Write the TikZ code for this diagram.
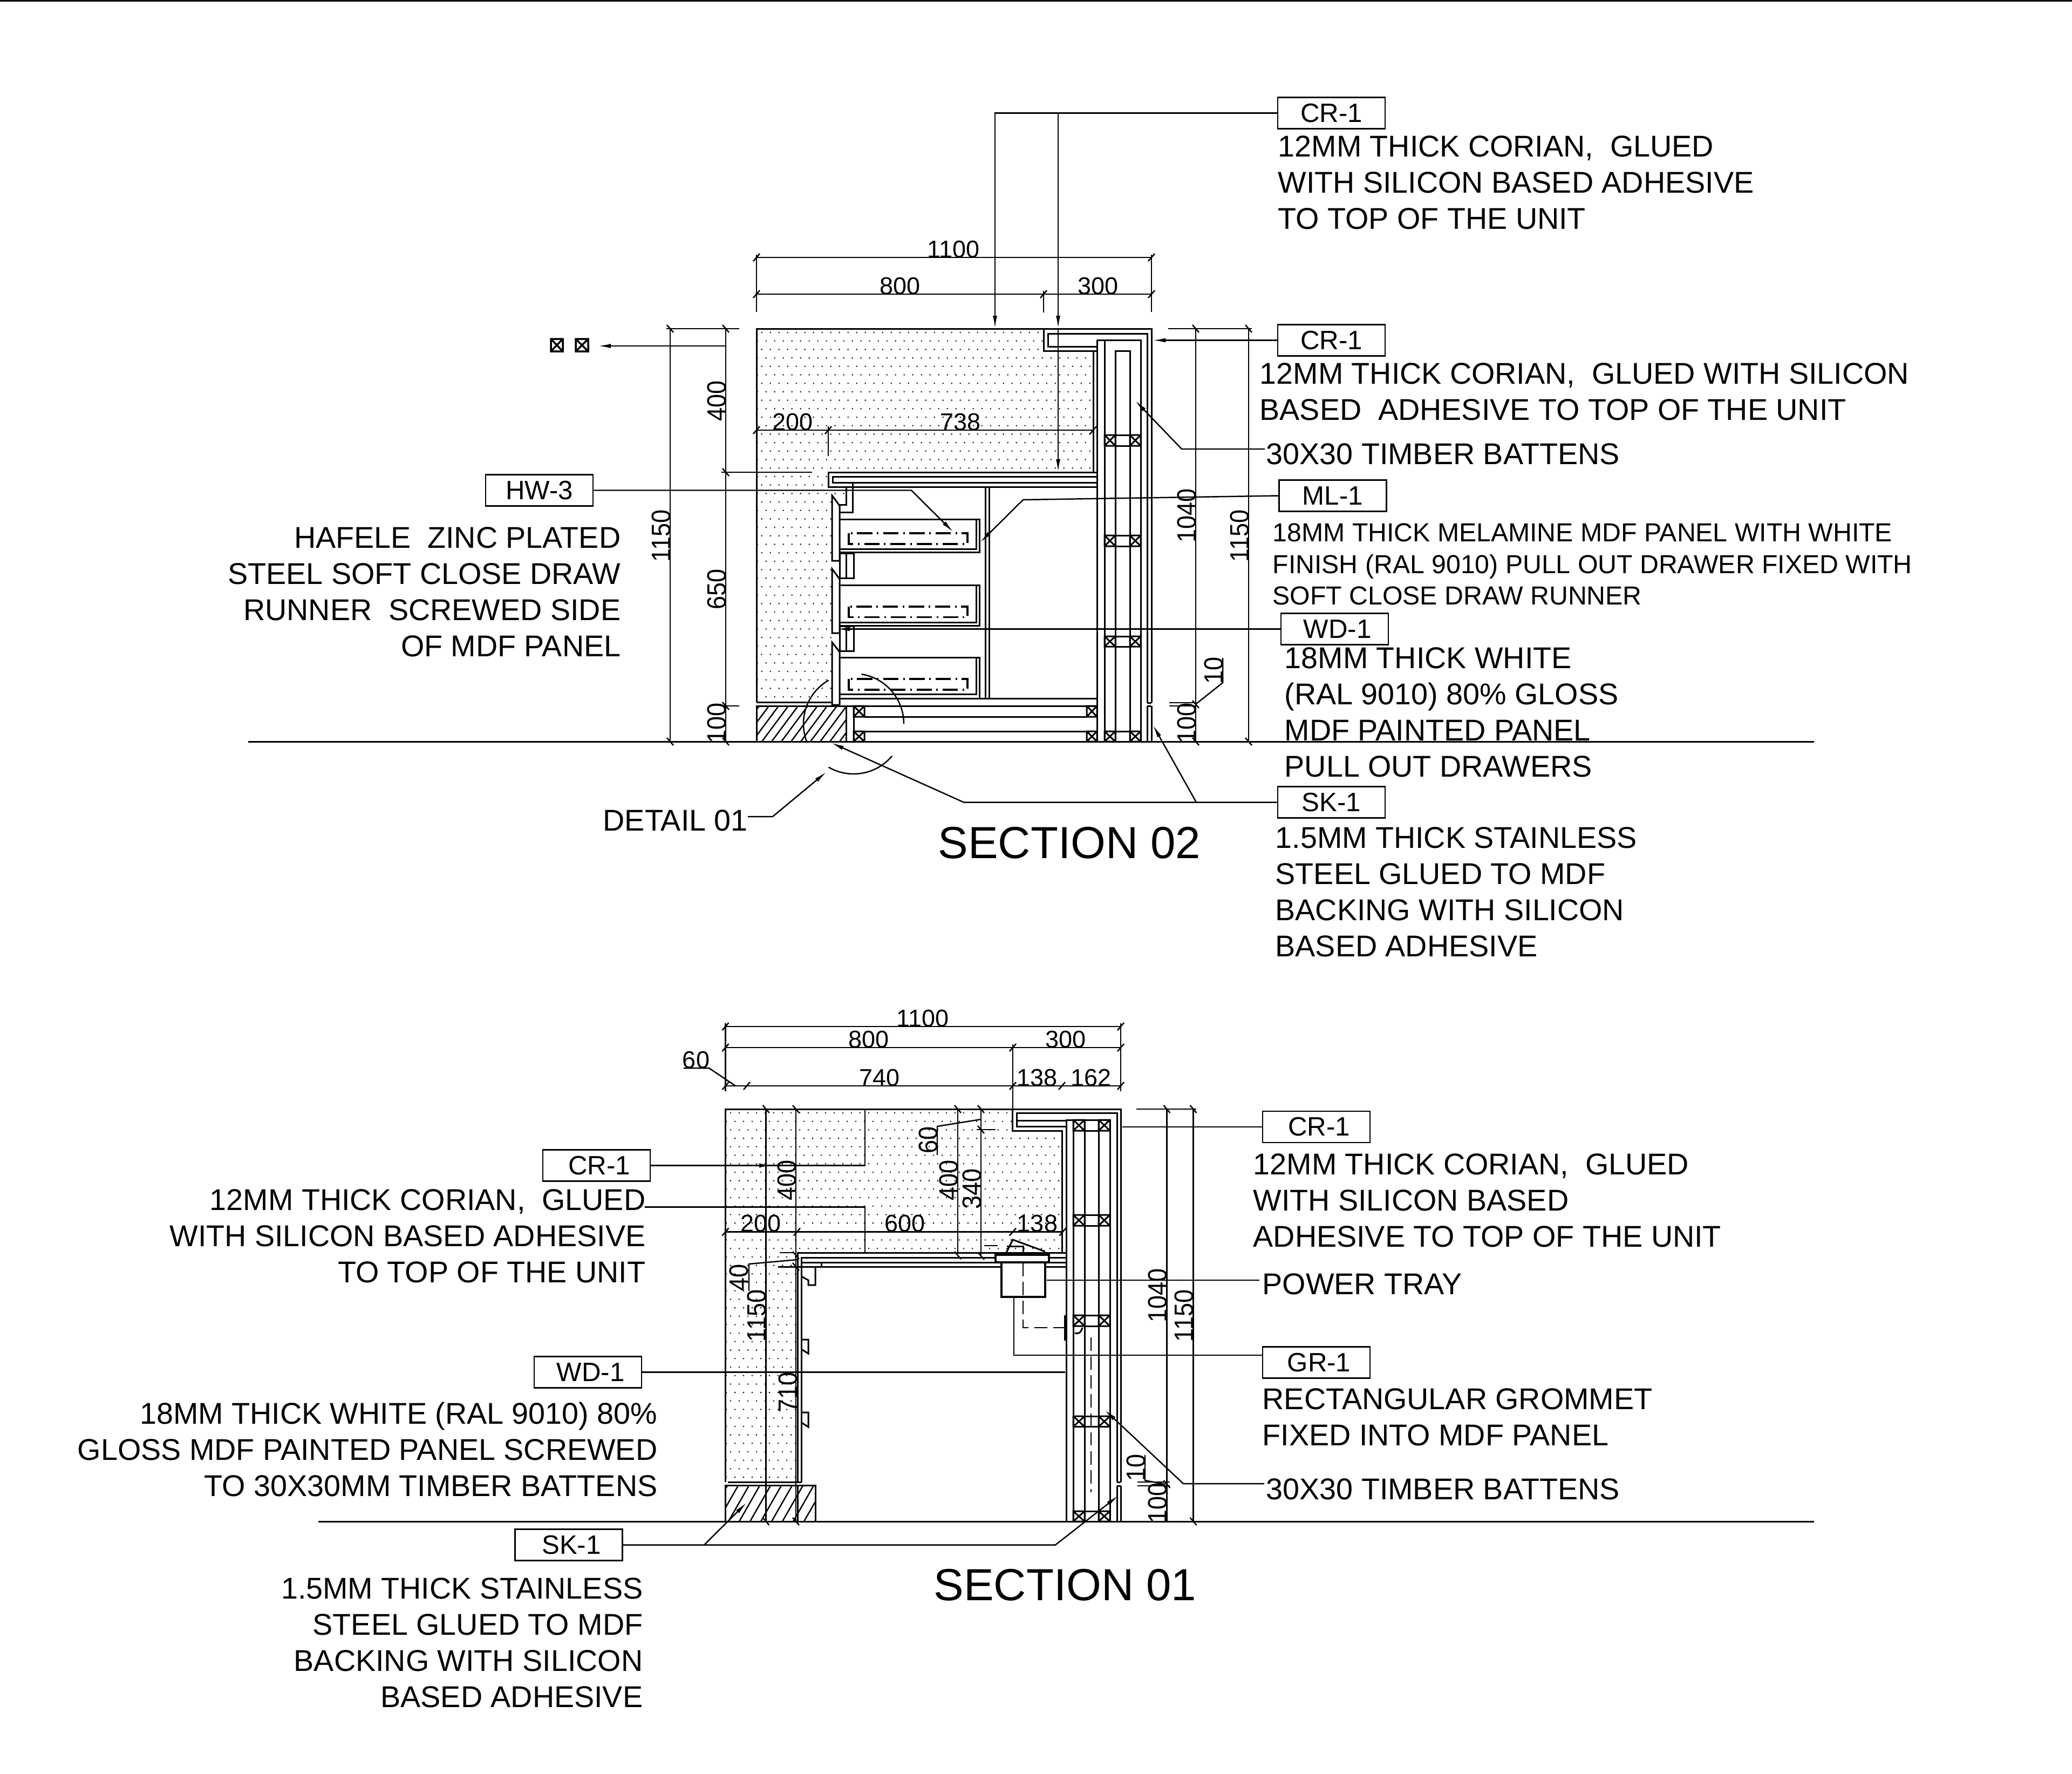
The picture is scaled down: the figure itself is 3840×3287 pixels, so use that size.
\documentclass[tikz,border=0pt]{standalone}
\usepackage{fontspec}
\setmainfont{Liberation Sans}
\usetikzlibrary{arrows.meta}
\tikzset{
  outl/.style={line width=0.85pt,line join=miter},
  heavy/.style={line width=1.4pt},
  dimln/.style={line width=0.7pt},
  lead/.style={line width=0.7pt},
  arr/.style={line width=0.7pt,-{Latex[length=2.4mm,width=0.8mm]}},
  hatchln/.style={line width=0.7pt},
  dashdot/.style={line width=0.9pt,dash pattern=on 8pt off 2.5pt on 0.8pt off 2.5pt},
  longdash/.style={line width=0.75pt,dash pattern=on 7pt off 3pt},
  dimtxt/.style={font=\fontsize{12.8}{14}\selectfont,inner sep=0pt,anchor=base},
  dimrot/.style={dimtxt,rotate=90,yscale=1.1},
  lbl/.style={font=\fontsize{15.84}{19.1}\selectfont,inner sep=0pt,anchor=north west,align=left,yshift=0.1mm},
  lblr/.style={font=\fontsize{15.84}{19.1}\selectfont,inner sep=0pt,anchor=north east,align=right,yshift=0.1mm,xshift=0.2mm},
  lblsmall/.style={font=\fontsize{13.72}{16.7}\selectfont,inner sep=0pt,anchor=north west,align=left,yshift=0.1mm},
  sectitle/.style={font=\fontsize{23.72}{26}\selectfont,inner sep=0pt,anchor=north west},
  tag/.style={draw,line width=0.75pt,minimum width=19.9mm,minimum height=5.8mm,inner sep=0pt,font=\fontsize{14}{15}\selectfont},
}
\newcommand\tkh[2]{\draw[dimln] (#1-6,#2+7) -- (#1+6,#2-7);}
\newcommand\tkv[2]{\draw[dimln] (#1-6,#2-7) -- (#1+6,#2+7);}
\newcommand\xbox[4]{\draw[outl] (#1,#2) rectangle (#3,#4) (#1,#2) -- (#3,#4) (#1,#4) -- (#3,#2);}
\newcommand\tagnudge{\hspace*{1mm}}
\begin{document}
\begin{tikzpicture}[x=0.1mm,y=-0.1mm]
\useasboundingbox (0,0) rectangle (3840,3287);
\draw[line width=1pt] (0,1) -- (3840,1);

% ================= SECTION 02 =================
\draw[outl] (460,1374) -- (3362,1374);
% dot fill
\begin{scope}
\clip (1402,609) -- (1934,609) -- (1934,650) -- (2026,650) -- (2026,875) -- (1535,875) -- (1535,903) -- (1566,903) -- (1566,918) -- (1541,918) -- (1541,1301) -- (1402,1301) -- cycle;
\foreach \r in {0,...,44}{\foreach \c in {0,...,39}{
  \fill ({1411.7+16*\c-8*mod(\r,2)},{616+15.7*\r}) circle[radius=0.14mm];}}
\end{scope}
% carcass
\draw[outl] (1402,1301) -- (1402,609) -- (2134,609) -- (2134,1302);
\draw[outl] (2134,1308) -- (2134,1374) (2126,1308) -- (2126,1374) (2126,1302) -- (2134,1302) (2126,1308) -- (2134,1308);
\draw[outl] (1934,609) -- (1934,650) -- (2033,650);
\draw[outl] (2033,642) -- (1942,642) -- (1942,618) -- (2126,618) -- (2126,1302);
\draw[outl] (2026,650) -- (2026,875);
\draw[outl] (2033,1374) -- (2033,630) -- (2114,630) -- (2114,1374);
\draw[outl] (2047,630) -- (2047,1374);
\draw[outl] (2067,1374) -- (2067,650) -- (2094,650) -- (2094,1374);
\foreach \a/\b in {806/826,992/1012,1179/1198,1355/1374}{
  \xbox{2047}{\a}{2067}{\b}\xbox{2094}{\a}{2114}{\b}\draw[outl] (2067,\a) -- (2094,\a) (2067,\b) -- (2094,\b);}
% shelf
\draw[outl] (2033,875) -- (1535,875) -- (1535,902) -- (2033,902);
\draw[outl] (2033,883) -- (1543,883) -- (1543,894) -- (2033,894);
\draw[outl] (1826,902) -- (1826,1294) (1833,902) -- (1833,1294);
% hardware below shelf
\draw[outl] (1568,902) -- (1568,935) -- (1556,935);
\draw[outl] (1580,894) -- (1580,949) -- (1556,949);
\foreach \a/\b/\c in {918/1039/937,1054/1173/1073,1190/1306/1208}{
  \draw[outl] (1556,\b) -- (1542,\b) -- (1542,\a) -- (1556,\c) -- (1556,\b);}
\draw[outl] (1556,1025) rectangle (1582,1071) (1568,1025) -- (1568,1071);
\draw[outl] (1556,1160) rectangle (1582,1206) (1568,1160) -- (1568,1206);
% drawers
\foreach \a/\b/\c/\d/\e in {962/1023/1017/988/1008,1084/1159/1153/1124/1143.5,1218/1294/1286/1258/1278}{
  \draw[outl] (1556,\a) -- (1815,\a) -- (1815,\b) -- (1556,\b) (1556,\c) -- (1809,\c) -- (1809,\a);
  \draw[dashdot] (1573,\d) rectangle (1793,\e);}
% plinth
\draw[outl] (1402,1301) -- (1542,1301);
\draw[outl] (1556,1294) -- (2033,1294);
\draw[outl] (1402,1308) -- (2033,1308);
\begin{scope}
\clip (1402,1308) rectangle (1568,1374);
\foreach \i in {1340,1358,...,1570}{\draw[hatchln] (\i,1374) -- (\i+49,1308);}
\end{scope}
\draw[outl] (1402,1308) rectangle (1568,1374);
\draw[outl] (1582,1308) -- (1582,1374);
\xbox{1582}{1308}{1602}{1328}\xbox{1582}{1355}{1602}{1374}
\xbox{2014}{1308}{2033}{1328}\xbox{2014}{1355}{2033}{1374}
\draw[outl] (1602,1328) -- (2014,1328) (1602,1355) -- (2014,1355);
% detail circle
\draw[lead] plot[domain=-81:0,samples=24] ({1582+93*cos(\x)},{1341+93*sin(\x)});
\draw[lead] plot[domain=40:120,samples=24] ({1582+93*cos(\x)},{1341+93*sin(\x)});
\draw[lead] plot[domain=159:240,samples=24] ({1582+93*cos(\x)},{1341+93*sin(\x)});
% marks
\draw[line width=1pt] (1021,628) rectangle (1043,651) (1021,628) -- (1043,651) (1021,651) -- (1043,628);
\draw[line width=1pt] (1067,628) rectangle (1090,651) (1067,628) -- (1090,651) (1067,651) -- (1090,628);
% dimensions
\draw[dimln] (1402,472) -- (1402,578) (2134,472) -- (2134,578) (1934,539) -- (1934,579);
\draw[dimln] (1402,477) -- (2134,477) (1402,545) -- (2134,545);
\tkh{1402}{477}\tkh{2134}{477}\tkh{1402}{545}\tkh{1934}{545}\tkh{2134}{545}
\draw[dimln] (1235,609) -- (1370,609) (1242,609) -- (1242,1374) (1345,609) -- (1345,1374);
\draw[dimln] (1337,875) -- (1505,875) (1337,1308) -- (1370,1308);
\tkv{1242}{609}\tkv{1345}{609}\tkv{1345}{875}\tkv{1345}{1308}\tkv{1345}{1374}\tkv{1242}{1374}
\draw[dimln] (1402,797) -- (2026,797) (1535,790) -- (1535,845);
\tkh{1402}{797}\tkh{1535}{797}\tkh{2026}{797}
\draw[dimln] (2165,609) -- (2320,609) (2216,609) -- (2216,1374) (2314,609) -- (2314,1374);
\draw[dimln] (2167,1302) -- (2217,1302) (2167,1308) -- (2217,1308);
\tkv{2216}{609}\tkv{2314}{609}\tkv{2216}{1305}\tkv{2216}{1374}\tkv{2314}{1374}
\draw[dimln] (2266,1219) -- (2266,1265) -- (2217,1304);
\node[dimtxt] (d02a) at (1767,477) {1100};
\node[dimtxt] (d02b) at (1668,545) {800};
\node[dimtxt] (d02c) at (2035,545) {300};
\node[dimtxt] (d02d) at (1469,797) {200};
\node[dimtxt] (d02e) at (1780,797) {738};
\node[dimrot] (d02f) at (1242,993) {1150};
\node[dimrot] (d02g) at (1345,743) {400};
\node[dimrot] (d02h) at (1345,1092) {650};
\node[dimrot] (d02i) at (1345,1340) {100};
\node[dimrot] (d02j) at (2216,955) {1040};
\node[dimrot] (d02k) at (2314,993) {1150};
\node[dimrot] (d02l) at (2266,1242) {10};
\node[dimrot] (d02m) at (2216,1340) {100};
% tags
\node[tag] (cra) at (2467.5,209.5) {CR-1};
\node[tag] (crb) at (2467.5,630.5) {CR-1};
\node[tag] (hw) at (999.5,908.5) {HW-3};
\node[tag] (ml) at (2470,918.5) {ML-1};
\node[tag] (wda) at (2473.5,1165.5) {\tagnudge WD-1};
\node[tag] (ska) at (2467.5,1486.5) {SK-1};
% labels
\node[lbl] (ta) at (2368,252) {12MM THICK CORIAN,\ \ GLUED\\WITH SILICON BASED ADHESIVE\\TO TOP OF THE UNIT};
\node[lbl] (tb) at (2334,673) {12MM THICK CORIAN,\ \ GLUED WITH SILICON\\BASED\ \ ADHESIVE TO TOP OF THE UNIT};
\node[lbl] (tc) at (2346,822) {30X30 TIMBER BATTENS};
\node[lblsmall] (td) at (2358,970) {18MM THICK MELAMINE MDF PANEL WITH WHITE\\FINISH (RAL 9010) PULL OUT DRAWER FIXED WITH\\SOFT CLOSE DRAW RUNNER};
\node[lbl] (te) at (2380,1200) {18MM THICK WHITE\\(RAL 9010) 80\% GLOSS\\MDF PAINTED PANEL\\PULL OUT DRAWERS};
\node[lbl] (tf) at (2363,1533) {1.5MM THICK STAINLESS\\STEEL GLUED TO MDF\\BACKING WITH SILICON\\BASED ADHESIVE};
\node[lblr] (tg) at (1149,977) {HAFELE\ \ ZINC PLATED\\STEEL SOFT CLOSE DRAW\\RUNNER\ \ SCREWED SIDE\\OF MDF PANEL};
\node[lbl] (th) at (1117,1501) {DETAIL 01};
\node[sectitle] (s02) at (1738,1532) {SECTION 02};
% leaders
\coordinate (a1) at (1844,609); \coordinate (a1k) at (1844,209.5);
\coordinate (a2) at (1961,875); \coordinate (a2k) at (1961,209.5); \coordinate (a2m) at (1961,609);
\draw[arr] (cra.west) -- (a1k) -- (a1);
\draw[arr] (a2k) -- (a2m);
\draw[arr] (a2m) -- (a2);
\coordinate (b1) at (2136,630.5);
\draw[arr] (crb.west) -- (b1);
\coordinate (c1) at (2344,832); \coordinate (c2) at (2190,832); \coordinate (c3) at (2103.5,742);
\draw[arr] (c1) -- (c2) -- (c3);
\coordinate (e1) at (1689,908.5); \coordinate (e2) at (1767,986);
\draw[arr] (hw.east) -- (e1) -- (e2);
\coordinate (f1) at (1896,926); \coordinate (f2) at (1816,1005.5);
\draw[arr] (ml.west) -- (f1) -- (f2);
\coordinate (g1) at (1551,1165.5);
\draw[arr] (wda.west) -- (g1);
\coordinate (h1) at (1786,1486.5); \coordinate (h2) at (1540,1376);
\draw[arr] (ska.west) -- (h1) -- (h2);
\coordinate (h3) at (2217,1486.5); \coordinate (h4) at (2136.5,1343);
\draw[arr] (h3) -- (h4);
\coordinate (i1) at (1386,1513); \coordinate (i2) at (1432,1513); \coordinate (i3) at (1532,1430);
\draw[arr] (i1) -- (i2) -- (i3);
\coordinate (j1) at (1345,641); \coordinate (j2) at (1108,641);
\draw[arr] (j1) -- (j2);

% ================= SECTION 01 =================
\draw[outl] (590,2819) -- (3362,2819);
\begin{scope}
\clip (1344.5,2055) -- (1876,2055) -- (1876,2095) -- (1968,2095) -- (1968,2321) -- (1478,2321) -- (1478,2746) -- (1344.5,2746) -- cycle;
\foreach \r in {0,...,44}{\foreach \c in {0,...,39}{
  \fill ({1354+16*\c-8*mod(\r,2)},{2062+15.7*\r}) circle[radius=0.14mm];}}
\end{scope}
\draw[outl] (1344.5,2746) -- (1344.5,2055) -- (2077,2055) -- (2077,2746);
\draw[outl] (2077,2753) -- (2077,2819) (2070,2753) -- (2070,2819) (2070,2746) -- (2077,2746) (2070,2753) -- (2077,2753);
\draw[outl] (1876,2055) -- (1876,2095) -- (1968,2095) -- (1968,2321);
\draw[outl] (1976.5,2087) -- (1884,2087) -- (1884,2062.4) -- (2070,2062.4) -- (2070,2746);
\draw[outl] (1884,2076) -- (1976.5,2076);
\draw[outl] (1976.5,2819) -- (1976.5,2075) -- (2057,2075) -- (2057,2819);
\draw[outl] (1989,2075) -- (1989,2819) (2010,2075) -- (2010,2819) (2036,2075) -- (2036,2819);
\foreach \a/\b in {2075/2095,2251/2271,2437/2457,2624/2643.5,2800/2819}{
  \xbox{1989}{\a}{2010}{\b}\xbox{2036}{\a}{2057}{\b}\draw[outl] (2010,\a) -- (2036,\a) (2010,\b) -- (2036,\b);}
% shelf and tray
\draw[outl] (1976.5,2321) -- (1478,2321) -- (1478,2746) (1485.5,2330) -- (1485.5,2746);
\draw[outl] (1845,2330) -- (1485.5,2330) -- (1485.5,2339) -- (1845,2339);
\draw[outl] (1478,2347.5) -- (1856,2347.5) (1937,2347.5) -- (1976.5,2347.5);
\draw[outl] (1944,2330) -- (1976.5,2330) (1944,2339) -- (1976.5,2339);
\draw[outl] (1522,2339) -- (1522,2347.5);
\draw[heavy] (1845,2324.5) rectangle (1944,2339);
\draw[heavy] (1856,2340) -- (1856,2403) -- (1937,2403) -- (1937,2340);
\draw[outl] (1863,2325) -- (1877,2297) -- (1937,2319);
\draw[outl] (1866,2309) -- (1896,2309) -- (1896,2322);
\draw[longdash] (1896,2340) -- (1896,2460) -- (1972,2460);
\draw[outl] (1973,2437) -- (1973,2484);
\draw[outl] (1992,2470) .. controls (1998,2472) and (2003,2470) .. (2006,2460);
\draw[longdash] (2022,2478) -- (2022,2765);
% clips
\draw[outl] (1485.5,2365) -- (1498,2372) -- (1498,2381) -- (1511,2381) -- (1511,2347.5);
\foreach \a/\b/\c in {2482/2508/2500,2617/2644/2636}{
  \draw[outl] (1485.5,\a) -- (1498,\a) -- (1498,\b) -- (1485.5,\c);}
% plinth
\draw[outl] (1349,2746) -- (1485.5,2746);
\begin{scope}
\clip (1344.5,2752.6) rectangle (1511.5,2819);
\foreach \i in {1290,1310,...,1510}{\draw[hatchln] (\i,2819) -- (\i+38,2752.6);}
\end{scope}
\draw[outl] (1344.5,2752.6) rectangle (1511.5,2819);
\draw[outl] (1478,2752.6) -- (1478,2819);
% dimensions
\draw[dimln] (1344.5,1896) -- (1344.5,2022) (2077,1896) -- (2077,2022) (1877,1935) -- (1877,2095);
\draw[dimln] (1344.5,1902) -- (2077,1902) (1344.5,1941) -- (2077,1941) (1344.5,2012) -- (2077,2012);
\tkh{1344.5}{1902}\tkh{2077}{1902}\tkh{1344.5}{1941}\tkh{1877}{1941}\tkh{2077}{1941}
\tkh{1344.5}{2012}\tkh{1384}{2012}\tkh{1877}{2012}\tkh{1968}{2012}\tkh{2077}{2012}
\draw[dimln] (1267,1979) -- (1314,1979) -- (1363,2012);
\draw[dimln] (1344.5,2282.5) -- (1969.5,2282.5);
\tkh{1344.5}{2282.5}\tkh{1477}{2282.5}\tkh{1877}{2282.5}\tkh{1969.5}{2282.5}
\draw[dimln] (1419.6,2055) -- (1419.6,2819) (1475,2055) -- (1475,2819);
\draw[dimln] (1775,2055) -- (1775,2321) (1818,2055) -- (1818,2327);
\tkv{1419.6}{2055}\tkv{1475}{2055}\tkv{1775}{2055}\tkv{1818}{2055}\tkv{1775}{2326}\tkv{1818}{2327}
\tkv{1419.6}{2819}\tkv{1475}{2819}\tkv{1475}{2326}\tkv{1475}{2347}\tkv{1818}{2093}
\draw[dimln] (1810,2093) -- (1845,2093) (1824,2308) -- (1849,2308);
\draw[dimln] (1445,2321) -- (1470,2321) (1442,2347.5) -- (1480,2347.5);
\draw[dimln] (1737,2140) -- (1737,2087) -- (1818,2074);
\draw[dimln] (1388,2392) -- (1388,2342) -- (1477,2334);
\draw[dimln] (2106,2055) -- (2217,2055) (2162.5,2055) -- (2162.5,2819) (2211.6,2055) -- (2211.6,2819);
\draw[dimln] (2108,2746) -- (2168,2746) (2108,2753) -- (2168,2753);
\tkv{2162.5}{2055}\tkv{2211.6}{2055}\tkv{2162.5}{2750}\tkv{2211.6}{2819}
\draw[dimln] (2122,2696) -- (2122,2743) -- (2160,2750);
\node[dimtxt] (d01a) at (1710,1902) {1100};
\node[dimtxt] (d01b) at (1610,1941) {800};
\node[dimtxt] (d01c) at (1975,1941) {300};
\node[dimtxt] (d01d) at (1630,2012) {740};
\node[dimtxt] (d01e) at (1922,2012) {138};
\node[dimtxt] (d01f) at (2022,2012) {162};
\node[dimtxt] (d01g) at (1290,1979) {60};
\node[dimtxt] (d01h) at (1410,2282.5) {200};
\node[dimtxt] (d01i) at (1677,2282.5) {600};
\node[dimtxt] (d01j) at (1922.5,2282.5) {138};
\node[dimrot] (d01k) at (1475,2187) {400};
\node[dimrot] (d01l) at (1775,2187) {400};
\node[dimrot] (d01m) at (1818,2203) {340};
\node[dimrot] (d01n) at (1737,2112) {60};
\node[dimrot] (d01o) at (1386,2367) {40};
\node[dimrot] (d01p) at (1419.6,2438) {1150};
\node[dimrot] (d01q) at (1477,2580) {710};
\node[dimrot] (d01r) at (2162.5,2400) {1040};
\node[dimrot] (d01s) at (2211.6,2438) {1150};
\node[dimrot] (d01t) at (2122,2719) {10};
\node[dimrot] (d01u) at (2162.5,2785) {100};
% tags
\node[tag] (crc) at (2439.5,2088) {\tagnudge CR-1};
\node[tag] (crd) at (1105.5,2159.5) {\tagnudge CR-1};
\node[tag] (wdb) at (1089.5,2542.5) {\tagnudge WD-1};
\node[tag] (gr) at (2439.5,2524.5) {\tagnudge GR-1};
\node[tag] (skb) at (1054,2862.5) {\tagnudge SK-1};
% labels
\node[lbl] (tk) at (2322,2138) {12MM THICK CORIAN,\ \ GLUED\\WITH SILICON BASED\\ADHESIVE TO TOP OF THE UNIT};
\node[lbl] (tl) at (2339,2360) {POWER TRAY};
\node[lbl] (tm) at (2339,2573) {RECTANGULAR GROMMET\\FIXED INTO MDF PANEL};
\node[lbl] (tn) at (2346,2740) {30X30 TIMBER BATTENS};
\node[lblr] (to) at (1195,2204) {12MM THICK CORIAN,\ \ GLUED\\WITH SILICON BASED ADHESIVE\\TO TOP OF THE UNIT};
\node[lblr] (tp) at (1217,2598) {18MM THICK WHITE (RAL 9010) 80\%\\GLOSS MDF PAINTED PANEL SCREWED\\TO 30X30MM TIMBER BATTENS};
\node[lblr] (tq) at (1190,2924) {1.5MM THICK STAINLESS\\STEEL GLUED TO MDF\\BACKING WITH SILICON\\BASED ADHESIVE};
\node[sectitle] (s01) at (1730,2907) {SECTION 01};
% leaders
\coordinate (k1) at (2080,2088);
\draw[lead] (crc.west) -- (k1);
\coordinate (l1) at (2334,2372); \coordinate (l2) at (1940,2372);
\draw[lead] (l1) -- (l2);
\coordinate (m1) at (1879,2403); \coordinate (m2) at (1879,2511);
\draw[lead] (m1) -- (m2) -- (gr.west |- m2);
\coordinate (n1) at (2343,2749); \coordinate (n2) at (2193,2749); \coordinate (n3) at (2047,2612);
\draw[arr] (n1) -- (n2) -- (n3);
\coordinate (o1) at (1603,2159.5); \coordinate (o2) at (1603,2057);
\draw[lead] (crd.east) -- (o1) -- (o2);
\coordinate (o3) at (1431,2159.5);
\draw[arr] (crd.east) -- (o3);
\coordinate (p1) at (1195,2236.5); \coordinate (p2) at (1603,2236.5); \coordinate (p3) at (1603,2320);
\draw[lead] (p1) -- (p2) -- (p3);
\coordinate (q1) at (1974,2542.5);
\draw[lead] (wdb.east) -- (q1);
\coordinate (r1) at (1956,2862.5); \coordinate (r2) at (2073,2771);
\draw[arr] (skb.east) -- (r1) -- (r2);
\coordinate (r3) at (1305,2862.5); \coordinate (r4) at (1384,2784);
\draw[arr] (r3) -- (r4);
\end{tikzpicture}
\end{document}
